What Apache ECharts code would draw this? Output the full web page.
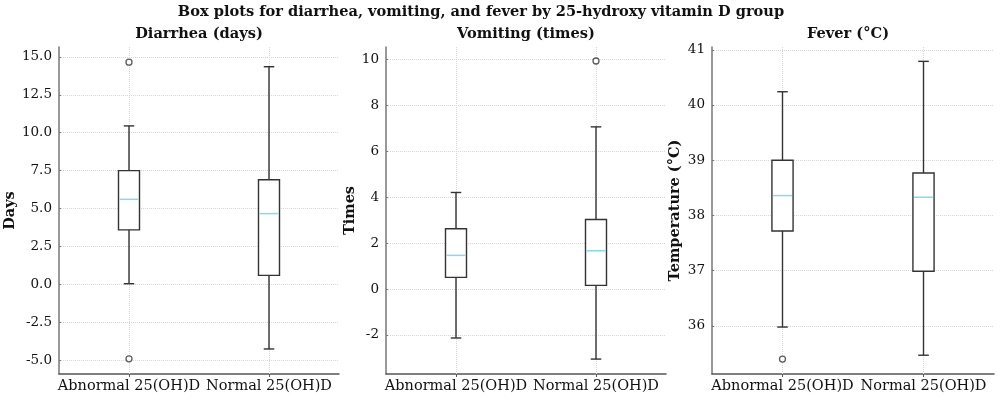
<!DOCTYPE html>
<html><head><meta charset="utf-8">
<script src="https://cdn.jsdelivr.net/npm/echarts@6/dist/echarts.min.js"></script>
<style>html,body{margin:0;padding:0;background:#fff}#c{width:1000px;height:404px}</style>
</head><body><div id="c"></div>
<script>
const categories = ['Abnormal 25(OH)D', 'Normal 25(OH)D'];
// each box: [lowerWhisker, Q1, median, Q3, upperWhisker]
const diarrheaBox = [[0.05, 3.6, 5.61, 7.5, 10.45], [-4.25, 0.6, 4.67, 6.9, 14.35]];
const diarrheaOutliers = [[0, 14.65], [0, -4.9]];
const vomitingBox = [[-2.13, 0.51, 1.47, 2.63, 4.21], [-3.05, 0.16, 1.67, 3.03, 7.07]];
const vomitingOutliers = [[1, 9.94]];
const feverBox = [[35.98, 37.72, 38.36, 39.0, 40.24], [35.47, 36.99, 38.33, 38.77, 40.79]];
const feverOutliers = [[0, 35.40]];
const diarrheaTicks = [-5, -2.5, 0, 2.5, 5, 7.5, 10, 12.5, 15];
const vomitingTicks = [-2, 0, 2, 4, 6, 8, 10];
const feverTicks = [36, 37, 38, 39, 40, 41];

const FONT = '"DejaVu Serif", serif';
const TXT = '#111';
const BOXC = '#333';
const MEDC = '#86dbe5';
const GRIDC = '#d6d6d6';

const chart = echarts.init(document.getElementById('c'), null, {renderer: 'canvas'});

const grids = [
  {left: 59, right: 661, top: 47, bottom: 30},
  {left: 386, right: 334, top: 47, bottom: 30},
  {left: 712, right: 6, top: 47, bottom: 30}
];

function xAxisFor(i) {
  return {
    gridIndex: i, type: 'category', data: categories, boundaryGap: true,
    axisLine: {show: true, onZero: false, lineStyle: {color: '#555', width: 1.5}},
    axisTick: {show: true, alignWithLabel: true, length: 3, lineStyle: {color: '#555'}},
    axisLabel: {interval: 0, hideOverlap: false, fontFamily: FONT, fontSize: 14.5, color: TXT, margin: 5},
    splitLine: {show: false}
  };
}
function yAxisFor(i, min, max, ticks, name, gap, fmt) {
  return {
    gridIndex: i, type: 'value', min: min, max: max,
    name: name, nameLocation: 'middle', nameGap: gap,
    nameTextStyle: {fontFamily: FONT, fontWeight: 'bold', fontSize: 14.5, color: TXT},
    axisLine: {show: true, onZero: false, lineStyle: {color: '#777', width: 1.5}},
    axisTick: {show: true, inside: true, length: 2, customValues: ticks, lineStyle: {color: '#777'}},
    axisLabel: {customValues: ticks, formatter: fmt, fontFamily: FONT, fontSize: 13.5, color: TXT, margin: 7},
    splitLine: {show: true, lineStyle: {type: 'dotted', color: GRIDC, width: 1}}
  };
}

function renderBox(params, api) {
  const x = api.value(0);
  const lo = api.coord([x, api.value(1)]);
  const q1 = api.coord([x, api.value(2)]);
  const md = api.coord([x, api.value(3)]);
  const q3 = api.coord([x, api.value(4)]);
  const hi = api.coord([x, api.value(5)]);
  const band = api.size([1, 0])[0];
  const hw = band * 0.075;
  const cw = hw * 0.5;
  const cx = q1[0];
  const ls = {stroke: BOXC, lineWidth: 1.4, fill: null};
  return {
    type: 'group',
    children: [
      {type: 'line', shape: {x1: cx, y1: q3[1], x2: cx, y2: hi[1]}, style: ls},
      {type: 'line', shape: {x1: cx, y1: q1[1], x2: cx, y2: lo[1]}, style: ls},
      {type: 'line', shape: {x1: cx - cw, y1: hi[1], x2: cx + cw, y2: hi[1]}, style: ls},
      {type: 'line', shape: {x1: cx - cw, y1: lo[1], x2: cx + cw, y2: lo[1]}, style: ls},
      {type: 'rect', shape: {x: cx - hw, y: q3[1], width: 2 * hw, height: q1[1] - q3[1]}, style: {stroke: BOXC, lineWidth: 1.4, fill: '#fff'}},
      {type: 'line', shape: {x1: cx - hw + 1, y1: md[1], x2: cx + hw - 1, y2: md[1]}, style: {stroke: MEDC, lineWidth: 1.5}}
    ]
  };
}

function boxSeries(i, boxes) {
  return {
    type: 'custom', xAxisIndex: i, yAxisIndex: i,
    data: boxes.map((d, k) => [k].concat(d)),
    encode: {x: 0, y: [1, 2, 3, 4, 5]},
    renderItem: renderBox,
    silent: true, z: 3,
    markLine: {
      silent: true, symbol: 'none', label: {show: false}, animation: false, z: 1,
      lineStyle: {type: 'dotted', color: GRIDC, width: 1},
      data: categories.map(c => ({xAxis: c}))
    }
  };
}
function outlierSeries(i, pts) {
  return {
    type: 'scatter', xAxisIndex: i, yAxisIndex: i, data: pts,
    symbol: 'circle', symbolSize: 6, z: 4, silent: true,
    itemStyle: {color: '#fff', borderColor: BOXC, borderWidth: 1.3}
  };
}

function titleText(text, x, y, size) {
  return {type: 'text', x: x, y: y, silent: true,
    style: {text: text, align: 'center', verticalAlign: 'middle', font: 'bold ' + size + 'px ' + FONT, fill: TXT}};
}

chart.setOption({
  animation: false,
  backgroundColor: '#fff',
  grid: grids,
  xAxis: [xAxisFor(0), xAxisFor(1), xAxisFor(2)],
  yAxis: [
    yAxisFor(0, -5.9, 15.65, diarrheaTicks, 'Days', 38, v => v.toFixed(1)),
    yAxisFor(1, -3.7, 10.55, vomitingTicks, 'Times', 28, v => String(v)),
    yAxisFor(2, 35.13, 41.05, feverTicks, 'Temperature (°C)', 29, v => String(v))
  ],
  series: [
    boxSeries(0, diarrheaBox), outlierSeries(0, diarrheaOutliers),
    boxSeries(1, vomitingBox), outlierSeries(1, vomitingOutliers),
    boxSeries(2, feverBox), outlierSeries(2, feverOutliers)
  ],
  graphic: [
    titleText('Box plots for diarrhea, vomiting, and fever by 25-hydroxy vitamin D group', 481, 12, 14.6),
    titleText('Diarrhea (days)', 199, 34, 14.6),
    titleText('Vomiting (times)', 526, 34, 14.6),
    titleText('Fever (°C)', 848, 34, 14.6)
  ]
});
</script></body></html>
